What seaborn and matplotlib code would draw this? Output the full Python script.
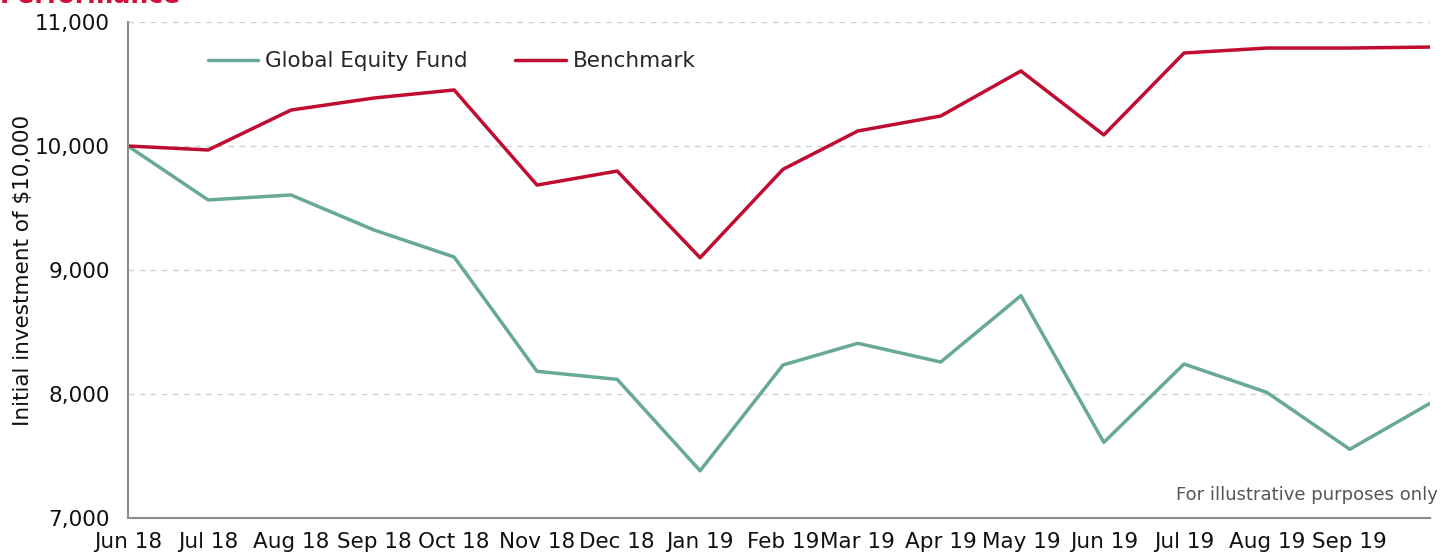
import os
import matplotlib
matplotlib.use('Agg')
import matplotlib.pyplot as plt
from matplotlib.ticker import FuncFormatter
from matplotlib import font_manager
import seaborn as sns
import pandas as pd

months = ['2018-06', '2018-07', '2018-08', '2018-09', '2018-10', '2018-11',
          '2018-12', '2019-01', '2019-02', '2019-03', '2019-04', '2019-05',
          '2019-06', '2019-07', '2019-08', '2019-09', '2019-10']
fund = [10000, 9565, 9605, 9323, 9105, 8183, 8118, 7381, 8234,
        8409, 8258, 8793, 7610, 8242, 8013, 7554, 7925]
benchmark = [10000, 9968, 10290, 10387, 10452, 9685, 9798, 9099, 9812,
             10121, 10242, 10605, 10089, 10750, 10790, 10790, 10798]
tick_labels = ['Jun 18', 'Jul 18', 'Aug 18', 'Sep 18', 'Oct 18', 'Nov 18',
               'Dec 18', 'Jan 19', 'Feb 19', 'Mar 19', 'Apr 19', 'May 19',
               'Jun 19', 'Jul 19', 'Aug 19', 'Sep 19']

dates = pd.to_datetime(months)
df = pd.DataFrame({
    'date': list(dates) * 2,
    'value': fund + benchmark,
    'series': ['Global Equity Fund'] * len(fund) + ['Benchmark'] * len(benchmark),
})

sns.set_style('white')
ttf_dir = os.path.join(matplotlib.get_data_path(), 'fonts', 'ttf')
regular = os.path.join(ttf_dir, 'DejaVuSans.ttf')
bold = os.path.join(ttf_dir, 'DejaVuSans-Bold.ttf')
for f in (regular, bold):
    if os.path.exists(f):
        font_manager.fontManager.addfont(f)
plt.rcParams['font.family'] = ['DejaVu Sans']

def fp(size, b=False):
    path = bold if b else regular
    if os.path.exists(path):
        return font_manager.FontProperties(fname=path, size=size)
    return font_manager.FontProperties(family='DejaVu Sans', size=size,
                                       weight='bold' if b else 'normal')

green = '#68A898'
red = '#C00C30'
FS = 15.5

fig = plt.figure(figsize=(14.44, 5.57), dpi=100)
ax = fig.add_axes([0.0886, 0.070, 0.9017, 0.8905])

sns.lineplot(data=df, x='date', y='value', hue='series',
             palette={'Global Equity Fund': green, 'Benchmark': red},
             linewidth=2.5, ax=ax)

ax.set_ylim(7000, 11000)
ax.set_xlim(dates[0], dates[-1])
ax.set_yticks([7000, 8000, 9000, 10000, 11000])
ax.yaxis.set_major_formatter(FuncFormatter(lambda v, p: f'{int(v):,}'))
ax.set_xticks(dates[:len(tick_labels)])
ax.set_xticklabels(tick_labels)

for v in [8000, 9000, 10000, 11000]:
    ax.axhline(v, color='#d0d0d0', linestyle=(0, (4, 4)), linewidth=1, zorder=0)

for s in ['top', 'right']:
    ax.spines[s].set_visible(False)
for s in ['left', 'bottom']:
    ax.spines[s].set_color('#8c8c8c')
    ax.spines[s].set_linewidth(1.5)

ax.tick_params(axis='both', which='major', length=7, width=1.3, color='#8c8c8c',
               labelcolor='#111111', direction='out')
ax.tick_params(axis='x', pad=3)
ax.tick_params(axis='y', pad=6)
for lab in ax.get_xticklabels() + ax.get_yticklabels():
    lab.set_fontproperties(fp(FS))

ax.set_xlabel('')
ax.set_ylabel('Initial investment of $10,000', color='#111111',
              labelpad=1, fontproperties=fp(15.5))

leg = ax.legend(loc='upper left', bbox_to_anchor=(0.0464, 0.98), ncol=2, frameon=False,
                prop=fp(FS), handlelength=2.35,
                handletextpad=0.33, columnspacing=2.2)
for line in leg.get_lines():
    line.set_linewidth(2.5)

fig.text(1438 / 1444, 1 - 495 / 557, 'For illustrative purposes only', ha='right', va='center',
         color='#555555', fontproperties=fp(13))
fig.text(0.0, 1 - 3 / 557, 'Performance', ha='left', va='baseline',
         color='#D0103A', fontproperties=fp(18, True))

fig.savefig('out.png', dpi=100)
